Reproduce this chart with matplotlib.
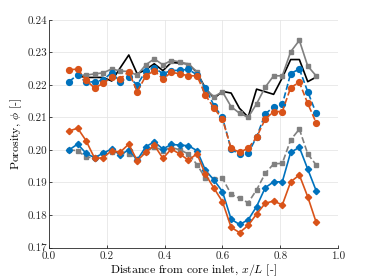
import matplotlib
matplotlib.use('Agg')
import matplotlib.pyplot as plt
import numpy as np

plt.rcParams['font.family'] = 'cmr10'
plt.rcParams['mathtext.fontset'] = 'cm'
plt.rcParams['axes.formatter.use_mathtext'] = True
plt.rcParams['font.size'] = 8

# slice positions along the core, x/L
x_pos = [0.069, 0.099, 0.128, 0.158, 0.187, 0.217, 0.246, 0.276, 0.305, 0.335,
         0.364, 0.394, 0.423, 0.453, 0.482, 0.512, 0.541, 0.571, 0.600, 0.630,
         0.659, 0.689, 0.718, 0.748, 0.777, 0.807, 0.836, 0.866, 0.895, 0.924]

nan = np.nan
# upper group
black_up = [nan, 0.2228, 0.2223, 0.2223, 0.2223, 0.2212, 0.2252, 0.2292, 0.2234, 0.2247,
            0.2265, 0.2244, 0.2269, 0.2267, 0.2265, 0.2238, 0.2190, 0.2159, 0.2180, 0.2175,
            0.2128, 0.2101, 0.2187, 0.2179, 0.2171, 0.2222, 0.2278, 0.2278, 0.2210, 0.2224]
gray_up = [nan, 0.2230, 0.2230, 0.2234, 0.2237, 0.2249, 0.2243, 0.2241, 0.2230, 0.2262,
           0.2280, 0.2262, 0.2275, 0.2271, 0.2262, 0.2241, 0.2185, 0.2164, 0.2179, 0.2133,
           0.2113, 0.2100, 0.2142, 0.2193, 0.2228, 0.2228, 0.2302, 0.2337, 0.2258, 0.2228]
blue_up = [0.2210, 0.2231, 0.2208, 0.2210, 0.2215, 0.2238, 0.2210, 0.2224, 0.2200, 0.2243,
           0.2252, 0.2235, 0.2244, 0.2245, 0.2248, 0.2231, 0.2190, 0.2136, 0.2100, 0.2002,
           0.1987, 0.1990, 0.2040, 0.2111, 0.2132, 0.2140, 0.2235, 0.2249, 0.2179, 0.2113]
orange_up = [0.2246, 0.2249, 0.2215, 0.2190, 0.2205, 0.2224, 0.2218, 0.2241, 0.2179, 0.2228,
             0.2244, 0.2218, 0.2239, 0.2234, 0.2228, 0.2228, 0.2169, 0.2128, 0.2095, 0.2005,
             0.1993, 0.2005, 0.2039, 0.2095, 0.2118, 0.2118, 0.2192, 0.2208, 0.2143, 0.2084]
# lower group
gray_lo = [0.2000, 0.1998, 0.1978, 0.1976, 0.1990, 0.1993, 0.1990, 0.1987, 0.1971, 0.1995,
           0.2010, 0.1998, 0.2008, 0.2000, 0.1988, 0.1955, 0.1913, 0.1912, 0.1913, 0.1864,
           0.1851, 0.1838, 0.1877, 0.1928, 0.1957, 0.1959, 0.2031, 0.2064, 0.1988, 0.1954]
blue_lo = [0.2000, 0.2018, 0.1990, 0.1976, 0.1990, 0.2003, 0.1985, 0.2000, 0.1969, 0.2010,
           0.2025, 0.2003, 0.2017, 0.2015, 0.2013, 0.1998, 0.1938, 0.1907, 0.1872, 0.1787,
           0.1771, 0.1785, 0.1826, 0.1884, 0.1902, 0.1902, 0.1993, 0.2008, 0.1941, 0.1875]
orange_lo = [0.2058, 0.2067, 0.2029, 0.1974, 0.1976, 0.1998, 0.1993, 0.2018, 0.1967, 0.1993,
             0.2015, 0.1974, 0.2003, 0.1987, 0.1969, 0.1988, 0.1925, 0.1882, 0.1841, 0.1762,
             0.1746, 0.1768, 0.1803, 0.1836, 0.1843, 0.1831, 0.1902, 0.1923, 0.1856, 0.1778]

blue = '#0072BD'
orange = '#D95319'
gray = '#808080'

fig = plt.figure(figsize=(3.74, 2.80), dpi=100)
ax = fig.add_axes([0.131, 0.116, 0.773, 0.813])

ax.plot(x_pos, black_up, color='black', lw=1.2, zorder=3)
ax.plot(x_pos, gray_up, color=gray, lw=1.2, marker='s', ms=3.2, zorder=3)
ax.plot(x_pos, gray_lo, color=gray, lw=1.2, ls='--', marker='s', ms=3.2, zorder=3)
ax.plot(x_pos, blue_up, color=blue, lw=1.2, ls='--', marker='o', ms=4.2, zorder=4)
ax.plot(x_pos, orange_up, color=orange, lw=1.2, ls='--', marker='o', ms=4.2, zorder=4)
ax.plot(x_pos, blue_lo, color=blue, lw=1.2, marker='D', ms=3.2, zorder=4)
ax.plot(x_pos, orange_lo, color=orange, lw=1.2, marker='D', ms=3.2, zorder=4)

ax.set_xlim(0, 1)
ax.set_ylim(0.17, 0.24)
ax.set_xticks(np.arange(0, 1.01, 0.2))
ax.set_yticks(np.arange(0.17, 0.2401, 0.01))
ax.xaxis.set_major_formatter(matplotlib.ticker.FormatStrFormatter('%.1f'))
ax.yaxis.set_major_formatter(matplotlib.ticker.FormatStrFormatter('%.2f'))
ax.grid(True, color='#e6e6e6', lw=0.6)
ax.set_axisbelow(True)
ax.spines['top'].set_visible(False)
ax.spines['right'].set_visible(False)
for s in ['left', 'bottom']:
    ax.spines[s].set_color('#262626')
    ax.spines[s].set_linewidth(0.6)
ax.tick_params(direction='in', length=2.5, width=0.6, colors='#262626', labelsize=8, pad=1.5)
ax.tick_params(axis='x', pad=2.5)

ax.set_xlabel(r'Distance from core inlet, $x/L$ [-]', fontsize=8.5, labelpad=1)
ax.set_ylabel(r'Porosity, $\phi$ [-]', fontsize=8.5, labelpad=2)

plt.savefig('out.png', dpi=100, facecolor='white')
